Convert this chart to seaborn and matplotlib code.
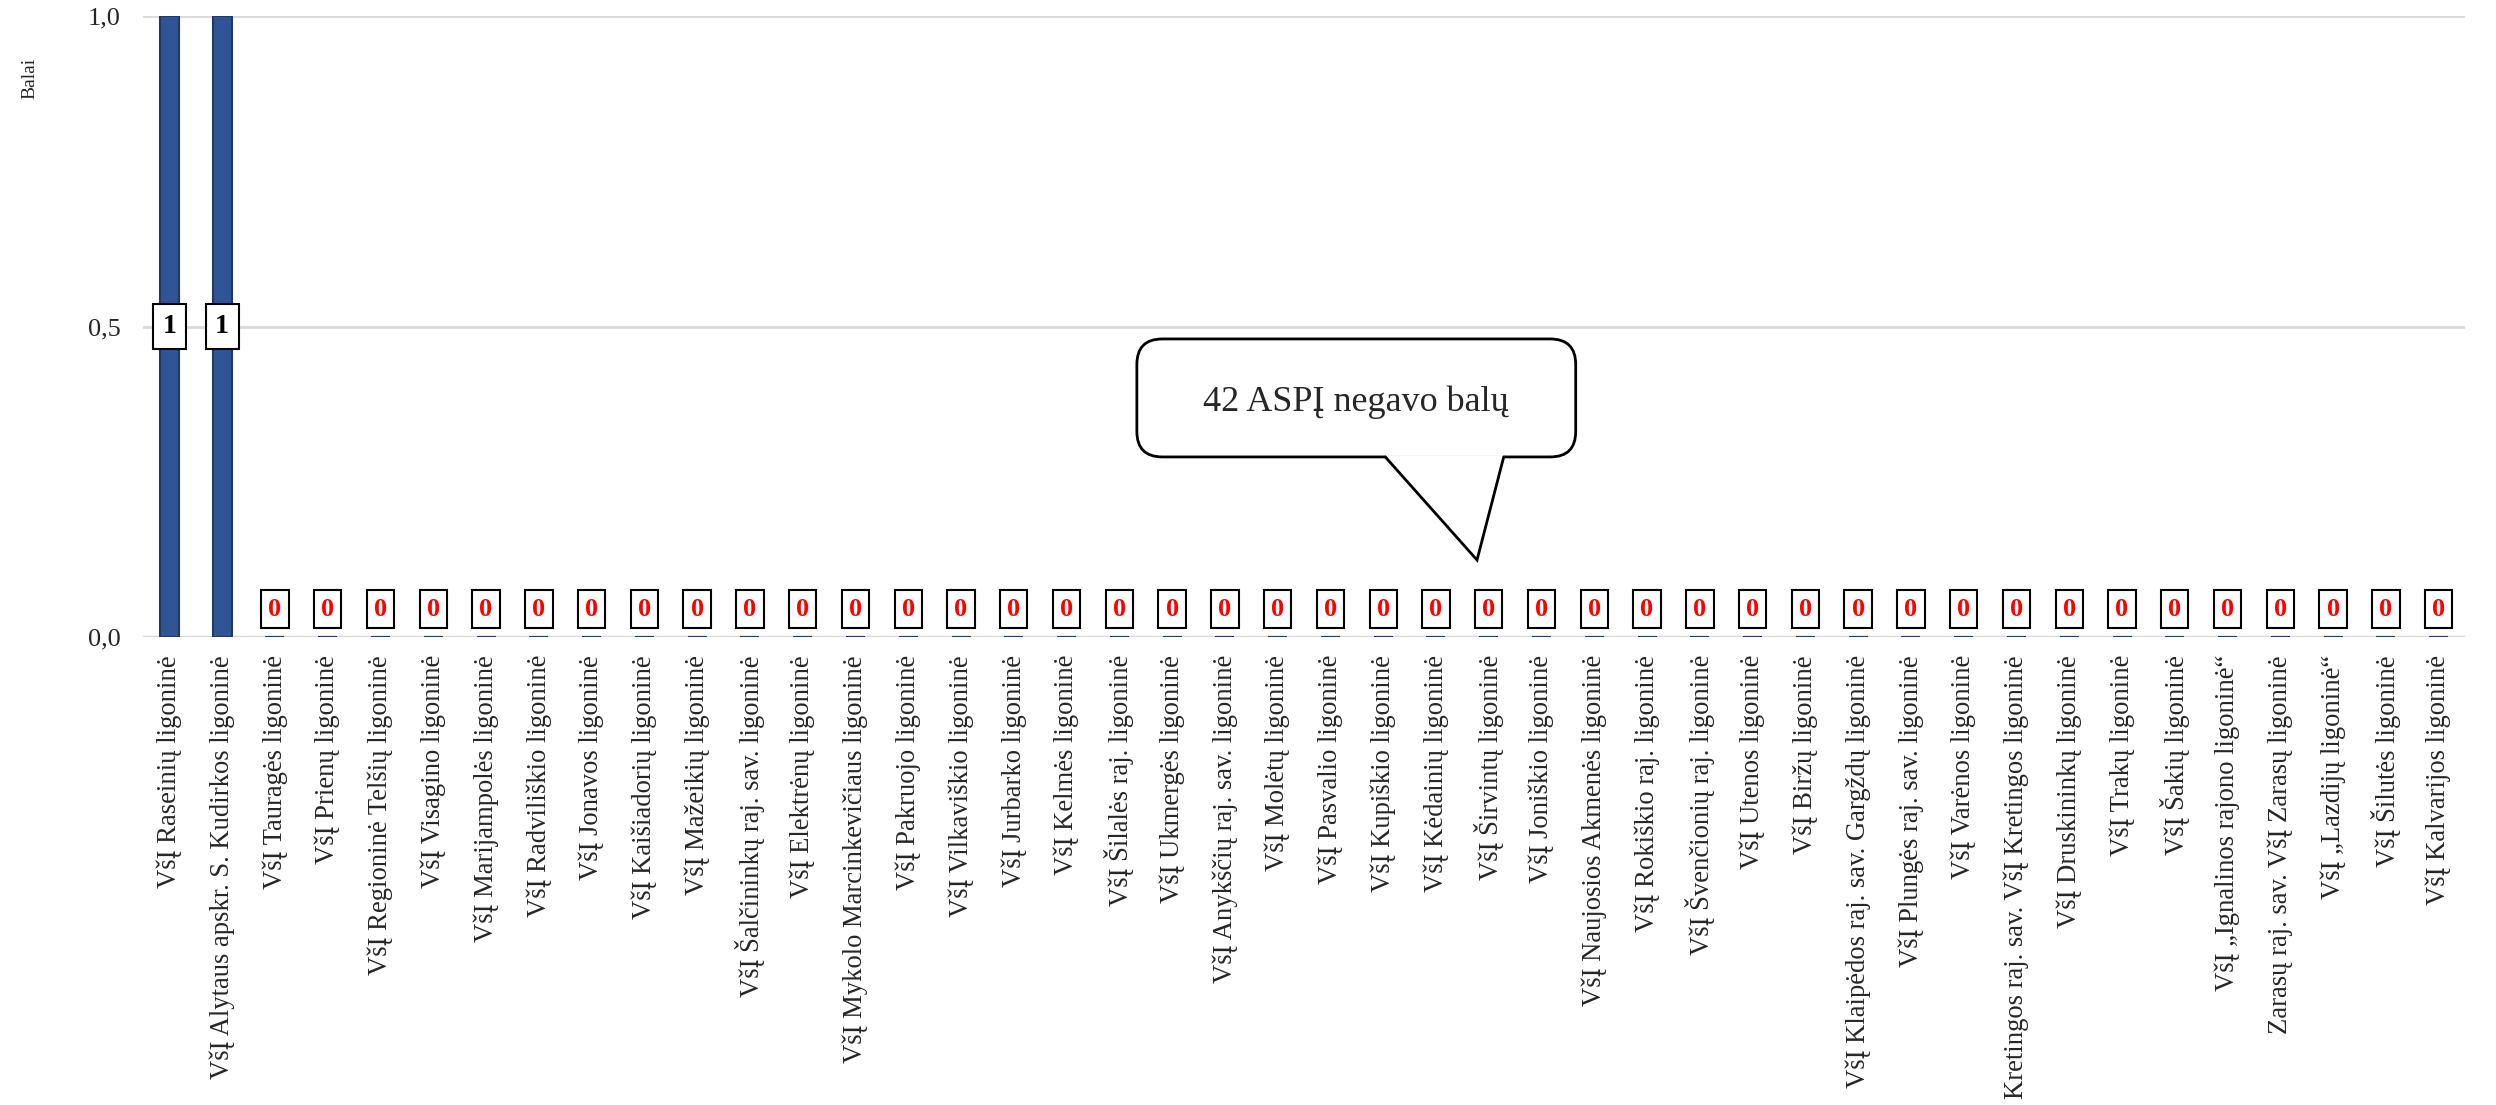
import numpy as np
import pandas as pd
import matplotlib
matplotlib.use("Agg")
import matplotlib.pyplot as plt
import seaborn as sns
from matplotlib.patches import FancyBboxPatch, Polygon

sns.set_style("white")
plt.rcParams['font.family'] = ['Liberation Serif', 'DejaVu Serif']

# hospitals and their scores
hospitals = [
    "VšĮ Raseinių ligoninė",
    "VšĮ Alytaus apskr. S. Kudirkos ligoninė",
    "VšĮ Tauragės ligoninė",
    "VšĮ Prienų ligoninė",
    "VšĮ Regioninė Telšių ligoninė",
    "VšĮ Visagino ligoninė",
    "VšĮ Marijampolės ligoninė",
    "VšĮ Radviliškio ligoninė",
    "VšĮ Jonavos ligoninė",
    "VšĮ Kaišiadorių ligoninė",
    "VšĮ Mažeikių ligoninė",
    "VšĮ Šalčininkų raj. sav. ligoninė",
    "VšĮ Elektrėnų ligoninė",
    "VšĮ Mykolo Marcinkevičiaus ligoninė",
    "VšĮ Pakruojo ligoninė",
    "VšĮ Vilkaviškio ligoninė",
    "VšĮ Jurbarko ligoninė",
    "VšĮ Kelmės ligoninė",
    "VšĮ Šilalės raj. ligoninė",
    "VšĮ Ukmergės ligoninė",
    "VšĮ Anykščių raj. sav. ligoninė",
    "VšĮ Molėtų ligoninė",
    "VšĮ Pasvalio ligoninė",
    "VšĮ Kupiškio ligoninė",
    "VšĮ Kėdainių ligoninė",
    "VšĮ Širvintų ligoninė",
    "VšĮ Joniškio ligoninė",
    "VšĮ Naujosios Akmenės ligoninė",
    "VšĮ Rokiškio raj. ligoninė",
    "VšĮ Švenčionių raj. ligoninė",
    "VšĮ Utenos ligoninė",
    "VšĮ Biržų ligoninė",
    "VšĮ Klaipėdos raj. sav. Gargždų ligoninė",
    "VšĮ Plungės raj. sav. ligoninė",
    "VšĮ Varėnos ligoninė",
    "Kretingos raj. sav. VšĮ Kretingos ligoninė",
    "VšĮ Druskininkų ligoninė",
    "VšĮ Trakų ligoninė",
    "VšĮ Šakių ligoninė",
    "VšĮ „Ignalinos rajono ligoninė“",
    "Zarasų raj. sav. VšĮ Zarasų ligoninė",
    "VšĮ „Lazdijų ligoninė“",
    "VšĮ Šilutės ligoninė",
    "VšĮ Kalvarijos ligoninė",
]
scores = [1, 1] + [0] * 42

y_ticks = [0.0, 0.5, 1.0]
y_tick_labels = ["0,0", "0,5", "1,0"]
callout_text = "42 ASPĮ negavo balų"

df = pd.DataFrame({"Ligoninė": hospitals, "Balai": scores})

fig = plt.figure(figsize=(24.96, 11.05), dpi=100)
ax = fig.add_axes([0.0573, 0.4235, 0.9303, 0.562])

sns.barplot(x="Ligoninė", y="Balai", data=df, color="#2F5597", width=0.36,
            edgecolor="#1F3864", linewidth=1.5, saturation=1, ax=ax, zorder=3)

ax.set_xlim(-0.5, len(hospitals) - 0.5)
ax.set_ylim(0, 1)
ax.set_yticks(y_ticks)
ax.set_yticklabels(y_tick_labels, fontsize=19)
ax.grid(axis="y", color="#D9D9D9", linewidth=2, zorder=0)
ax.set_axisbelow(True)
for s in ax.spines.values():
    s.set_visible(False)
ax.axhline(0, color="#D9D9D9", linewidth=2.5, zorder=1)
ax.tick_params(axis="both", length=0)
ax.tick_params(axis="x", pad=13)
ax.tick_params(axis="y", pad=16)
plt.setp(ax.get_xticklabels(), rotation=90, fontsize=19.2)

ax.set_xlabel("")
ax.set_ylabel("Balai", fontsize=14)
ax.yaxis.set_label_coords(-0.045, 0.9)

# data labels
for i, v in enumerate(scores):
    if v > 0:
        ax.text(i, v / 2, str(v), ha="center", va="center", fontsize=20,
                fontweight="bold", color="black", zorder=6,
                bbox=dict(boxstyle="square,pad=0.35", fc="white", ec="black", lw=1.5))
    else:
        ax.text(i, 0.045, str(v), ha="center", va="center", fontsize=19,
                fontweight="bold", color="red", zorder=6,
                bbox=dict(boxstyle="square,pad=0.27", fc="white", ec="black", lw=1.5))

# speech bubble callout
box = FancyBboxPatch((0.428, 0.29), 0.189, 0.19, transform=ax.transAxes,
                     boxstyle="round,pad=0,rounding_size=0.011", fc="white",
                     ec="black", lw=2, zorder=7, mutation_aspect=3.74)
ax.add_patch(box)
tail = Polygon([(0.535, 0.293), (0.5745, 0.124), (0.586, 0.293)], closed=True,
               transform=ax.transAxes, fc="white", ec="none", zorder=8)
ax.add_patch(tail)
ax.plot([0.535, 0.5745, 0.586], [0.29, 0.124, 0.29], transform=ax.transAxes,
        color="black", lw=2, zorder=9, solid_joinstyle="miter")
ax.text(0.5225, 0.378, callout_text, transform=ax.transAxes, ha="center",
        va="center", fontsize=26, zorder=10)

fig.savefig("out.png", dpi=100)
